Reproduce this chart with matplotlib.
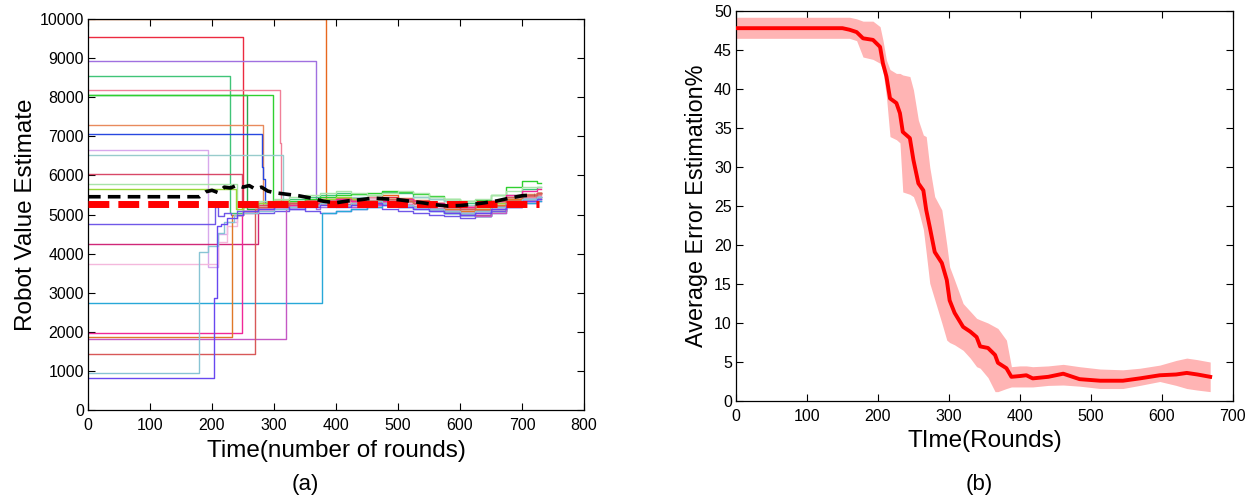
import matplotlib
matplotlib.use('Agg')
import matplotlib.pyplot as plt

# ---------------- data: panel (a) ----------------
BAND_T = [250, 275, 300, 325, 350, 375, 400, 425, 450, 475, 500, 525, 550, 575, 600, 625, 650, 675, 700, 725]
END_T = 730

R01_PRE_T = [0, 384]; R01_PRE_V = [10000, 5380]
R01_BAND = [5420, 5360, 5450, 5500, 5420, 5380, 5300, 5240, 5180, 5120, 5300, 5400, 5520, 5560]
R02_PRE_T = [0]; R02_PRE_V = [9550]
R02_BAND = [5250, 5300, 5350, 5300, 5380, 5400, 5350, 5420, 5380, 5450, 5400, 5350, 5280, 5200, 5150, 5100, 5220, 5380, 5480, 5520]
R03_PRE_T = [0, 368]; R03_PRE_V = [8930, 5150]
R03_BAND = [5200, 5250, 5300, 5280, 5350, 5300, 5260, 5200, 5150, 5100, 5050, 5150, 5300, 5400, 5450]
R04_PRE_T = [0, 229]; R04_PRE_V = [8550, 5050]
R04_BAND = [5200, 5300, 5350, 5400, 5450, 5500, 5550, 5520, 5500, 5580, 5550, 5450, 5400, 5350, 5300, 5250, 5350, 5500, 5650, 5700]
R05_PRE_T = [0, 310, 312]; R05_PRE_V = [8175, 6830, 5300]
R05_BAND = [5300, 5350, 5400, 5380, 5420, 5450, 5400, 5380, 5350, 5300, 5250, 5200, 5150, 5200, 5350, 5450, 5500]
R06_PRE_T = [0, 256]; R06_PRE_V = [8060, 5150]
R06_BAND = [5200, 5250, 5300, 5280, 5320, 5380, 5400, 5350, 5300, 5350, 5250, 5150, 5050, 5000, 4950, 5100, 5300, 5400, 5450]
R07_PRE_T = [0, 299]; R07_PRE_V = [8060, 5250]
R07_BAND = [5300, 5350, 5400, 5450, 5500, 5520, 5550, 5600, 5580, 5520, 5480, 5400, 5350, 5380, 5500, 5700, 5850, 5800]
R08_PRE_T = [0, 282]; R08_PRE_V = [7290, 5250]
R08_BAND = [5350, 5300, 5250, 5300, 5350, 5400, 5380, 5350, 5400, 5350, 5300, 5250, 5200, 5150, 5250, 5400, 5500, 5550]
R09_PRE_T = [0, 280, 283, 286]; R09_PRE_V = [7060, 6220, 5900, 5300]
R09_BAND = [5250, 5200, 5250, 5300, 5280, 5300, 5250, 5300, 5250, 5200, 5150, 5100, 5050, 5100, 5200, 5300, 5400, 5450]
R10_PRE_T = [0, 194, 210, 225, 240]; R10_PRE_V = [6650, 3660, 4500, 4800, 5000]
R10_BAND = [5100, 5200, 5250, 5300, 5350, 5300, 5250, 5300, 5350, 5300, 5250, 5300, 5250, 5200, 5150, 5100, 5200, 5300, 5400, 5450]
R11_PRE_T = [0, 315]; R11_PRE_V = [6520, 5200]
R11_BAND = [5250, 5300, 5350, 5400, 5450, 5400, 5350, 5400, 5450, 5400, 5350, 5250, 5200, 5250, 5400, 5500, 5550]
R12_PRE_T = [0, 249]; R12_PRE_V = [6035, 5150]
R12_BAND = [5200, 5250, 5300, 5250, 5300, 5350, 5300, 5250, 5300, 5350, 5300, 5250, 5200, 5100, 5050, 5000, 5100, 5250, 5350, 5400]
R13_PRE_T = [0, 240]; R13_PRE_V = [5780, 5100]
R13_BAND = [5250, 5350, 5400, 5450, 5500, 5550, 5600, 5550, 5500, 5550, 5600, 5550, 5450, 5400, 5350, 5400, 5500, 5600, 5700, 5700]
R14_PRE_T = [0, 238]; R14_PRE_V = [5650, 5150]
R14_BAND = [5250, 5300, 5350, 5300, 5350, 5400, 5450, 5400, 5350, 5400, 5350, 5300, 5250, 5200, 5150, 5200, 5300, 5400, 5500, 5550]
R15_PRE_T = [0, 205, 210, 220, 230, 240]; R15_PRE_V = [4757, 5200, 4950, 5050, 5000, 5100]
R15_BAND = [5100, 5050, 5100, 5150, 5100, 5050, 5100, 5150, 5200, 5150, 5100, 5050, 5000, 4950, 4900, 4950, 5100, 5200, 5300, 5350]
R16_PRE_T = [0, 274]; R16_PRE_V = [4245, 5150]
R16_BAND = [5200, 5250, 5300, 5350, 5300, 5350, 5400, 5350, 5300, 5250, 5200, 5150, 5200, 5250, 5350, 5450, 5500, 5550]
R17_PRE_T = [0, 210, 225, 240]; R17_PRE_V = [3730, 4300, 4700, 5000]
R17_BAND = [5100, 5150, 5200, 5250, 5300, 5350, 5300, 5350, 5400, 5350, 5300, 5250, 5200, 5150, 5200, 5250, 5350, 5450, 5500, 5550]
R18_PRE_T = [0, 378]; R18_PRE_V = [2735, 5050]
R18_BAND = [5100, 5150, 5200, 5250, 5200, 5150, 5100, 5050, 5000, 4950, 5050, 5200, 5300, 5350]
R19_PRE_T = [0, 248]; R19_PRE_V = [1977, 5000]
R19_BAND = [5050, 5150, 5200, 5250, 5300, 5350, 5400, 5350, 5300, 5350, 5400, 5350, 5300, 5250, 5200, 5250, 5350, 5500, 5600, 5650]
R20_PRE_T = [0, 232]; R20_PRE_V = [1860, 5000]
R20_BAND = [5100, 5200, 5250, 5300, 5350, 5300, 5250, 5300, 5350, 5400, 5350, 5300, 5250, 5150, 5100, 5150, 5250, 5400, 5500, 5550]
R21_PRE_T = [0, 320]; R21_PRE_V = [1825, 5150]
R21_BAND = [5200, 5250, 5300, 5250, 5200, 5250, 5300, 5250, 5200, 5150, 5100, 5000, 4950, 5050, 5200, 5350, 5400]
R22_PRE_T = [0, 269]; R22_PRE_V = [1430, 5150]
R22_BAND = [5200, 5250, 5300, 5350, 5300, 5250, 5300, 5350, 5400, 5350, 5300, 5250, 5200, 5150, 5250, 5350, 5450, 5500, 5550]
R23_PRE_T = [0, 179, 193, 209, 220, 235]; R23_PRE_V = [945, 4050, 4190, 4535, 4800, 5000]
R23_BAND = [5050, 5100, 5150, 5200, 5250, 5300, 5250, 5300, 5350, 5300, 5250, 5200, 5150, 5100, 5050, 5100, 5200, 5300, 5400, 5450]
R24_PRE_T = [0, 203, 208, 215, 225, 240]; R24_PRE_V = [815, 2870, 4700, 4750, 4900, 5000]
R24_BAND = [5100, 5150, 5200, 5150, 5200, 5250, 5200, 5250, 5300, 5250, 5200, 5150, 5100, 5050, 5000, 5050, 5150, 5250, 5350, 5400]

ROBOT_COLORS = ['#e8681e', '#ec2a40', '#a070e0', '#40c478', '#f08098', '#2ca84e',
                '#30d030', '#e88a5c', '#2848e0', '#d8a8ec', '#98cccc', '#d84868',
                '#a8e4a8', '#98d838', '#7058e8', '#d02878', '#f4b8dc', '#28a8d8',
                '#f02898', '#e07828', '#c458c4', '#d85858', '#88c4d4', '#6848f0']

MEAN_T = [0, 180, 190, 200, 210, 220, 230, 240, 250, 260, 270, 280, 290, 300, 320, 340, 360,
          380, 400, 420, 440, 460, 480, 500, 520, 540, 560, 580, 600, 620, 640, 660, 680, 700, 720]
MEAN_V = [5455, 5455, 5580, 5620, 5560, 5700, 5680, 5750, 5700, 5740, 5650, 5700, 5600, 5560,
          5520, 5480, 5420, 5340, 5300, 5350, 5380, 5420, 5400, 5380, 5340, 5300, 5250, 5220,
          5230, 5260, 5300, 5350, 5420, 5480, 5500]
TRUE_T = [0, 728]
TRUE_V = [5280, 5280]

# ---------------- data: panel (b) ----------------
ERR_T = [0, 150, 160, 170, 179, 193, 203, 207, 212, 217, 226, 231, 235, 245, 250, 257, 264, 268,
         273, 280, 290, 297, 301, 308, 320, 330, 339, 344, 355, 365, 369, 381, 388, 400, 409, 418,
         440, 461, 484, 513, 545, 569, 597, 620, 635, 650, 668]
ERR_MEAN = [47.8, 47.8, 47.6, 47.3, 46.5, 46.3, 45.4, 43.3, 41.6, 38.8, 38.2, 36.9, 34.5, 33.7,
            30.9, 27.9, 27.0, 24.5, 22.3, 19.1, 17.7, 15.5, 12.9, 11.3, 9.5, 8.9, 8.2, 7.0, 6.8,
            5.9, 4.9, 4.2, 3.1, 3.2, 3.3, 2.9, 3.1, 3.5, 2.8, 2.6, 2.6, 2.9, 3.3, 3.4, 3.6, 3.4, 3.1]
ERR_UP = [49.2, 49.2, 49.2, 49.0, 48.7, 48.7, 48.0, 46.3, 43.7, 42.5, 42.0, 42.0, 41.8, 41.6,
          39.9, 36.0, 34.1, 33.9, 30.0, 26.2, 24.5, 20.0, 17.2, 15.5, 12.5, 11.5, 10.6, 10.4, 10.0,
          9.5, 9.3, 7.8, 4.4, 4.5, 4.5, 4.4, 4.5, 4.7, 4.4, 4.1, 4.0, 4.2, 4.6, 5.2, 5.5, 5.3, 5.0]
ERR_LO = [46.5, 46.5, 46.5, 46.2, 44.1, 43.8, 43.3, 42.4, 39.0, 33.9, 33.5, 33.1, 26.8, 26.5,
          26.2, 24.5, 22.0, 19.0, 15.1, 13.0, 10.0, 7.8, 7.5, 7.2, 6.5, 5.5, 4.4, 4.2, 3.0, 1.2,
          1.2, 1.6, 1.8, 1.8, 1.8, 1.8, 2.0, 2.05, 1.9, 1.6, 1.6, 2.0, 2.5, 2.0, 1.6, 1.4, 1.2]

XTICKS_A = [0, 100, 200, 300, 400, 500, 600, 700, 800]
YTICKS_A = [0, 1000, 2000, 3000, 4000, 5000, 6000, 7000, 8000, 9000, 10000]
XTICKS_B = [0, 100, 200, 300, 400, 500, 600, 700]
YTICKS_B = [0, 5, 10, 15, 20, 25, 30, 35, 40, 45, 50]

# ---------------- drawing ----------------
plt.rcParams['font.family'] = ['Liberation Sans', 'DejaVu Sans']
TICK_FONT = ['Liberation Sans Narrow', 'Liberation Sans', 'DejaVu Sans']

fig = plt.figure(figsize=(12.48, 5.01), dpi=100)
ax1 = fig.add_axes([0.0705, 0.1816, 0.3974, 0.7804])
ax2 = fig.add_axes([0.5897, 0.1996, 0.3982, 0.7784])

robots = [
    (R01_PRE_T, R01_PRE_V, R01_BAND), (R02_PRE_T, R02_PRE_V, R02_BAND),
    (R03_PRE_T, R03_PRE_V, R03_BAND), (R04_PRE_T, R04_PRE_V, R04_BAND),
    (R05_PRE_T, R05_PRE_V, R05_BAND), (R06_PRE_T, R06_PRE_V, R06_BAND),
    (R07_PRE_T, R07_PRE_V, R07_BAND), (R08_PRE_T, R08_PRE_V, R08_BAND),
    (R09_PRE_T, R09_PRE_V, R09_BAND), (R10_PRE_T, R10_PRE_V, R10_BAND),
    (R11_PRE_T, R11_PRE_V, R11_BAND), (R12_PRE_T, R12_PRE_V, R12_BAND),
    (R13_PRE_T, R13_PRE_V, R13_BAND), (R14_PRE_T, R14_PRE_V, R14_BAND),
    (R15_PRE_T, R15_PRE_V, R15_BAND), (R16_PRE_T, R16_PRE_V, R16_BAND),
    (R17_PRE_T, R17_PRE_V, R17_BAND), (R18_PRE_T, R18_PRE_V, R18_BAND),
    (R19_PRE_T, R19_PRE_V, R19_BAND), (R20_PRE_T, R20_PRE_V, R20_BAND),
    (R21_PRE_T, R21_PRE_V, R21_BAND), (R22_PRE_T, R22_PRE_V, R22_BAND),
    (R23_PRE_T, R23_PRE_V, R23_BAND), (R24_PRE_T, R24_PRE_V, R24_BAND),
]
for (pt, pv, band), col in zip(robots, ROBOT_COLORS):
    t = list(pt) + BAND_T[len(BAND_T) - len(band):] + [END_T]
    v = list(pv) + list(band) + [band[-1]]
    ax1.step(t, v, where='post', color=col, lw=1.0, zorder=2)

ax1.plot(TRUE_T, TRUE_V, color='#ff0000', lw=5, dashes=(3.0, 1.3), zorder=4)
ax1.plot(MEAN_T, MEAN_V, color='black', lw=2.6, dashes=(3.5, 2.0), zorder=5)

ax1.set_xlim(0, 800)
ax1.set_ylim(0, 10000)
ax1.set_xticks(XTICKS_A)
ax1.set_yticks(YTICKS_A)
ax1.set_xlabel('Time(number of rounds)', fontsize=17.5, labelpad=5)
ax1.set_ylabel('Robot Value Estimate', fontsize=17.5, labelpad=2)

ax2.fill_between(ERR_T, ERR_LO, ERR_UP, color='#ffb4b4', lw=0, zorder=2)
ax2.plot(ERR_T, ERR_MEAN, color='#ff0000', lw=2.8, zorder=3)
ax2.set_xlim(0, 700)
ax2.set_ylim(0, 50)
ax2.set_xticks(XTICKS_B)
ax2.set_yticks(YTICKS_B)
ax2.set_xlabel('TIme(Rounds)', fontsize=17.5, labelpad=4)
ax2.set_ylabel('Average Error Estimation%', fontsize=16.8, labelpad=4)

for ax in (ax1, ax2):
    ax.tick_params(direction='in', top=True, right=True, length=5, width=0.8,
                   labelsize=11.5, pad=3)
    ax.tick_params(axis='x', pad=6)
    for lab in ax.get_xticklabels() + ax.get_yticklabels():
        lab.set_family(TICK_FONT)
    for sp in ax.spines.values():
        sp.set_linewidth(0.9)

fig.text(0.2444, 0.032, '(a)', ha='center', va='center', fontsize=16)
fig.text(0.785, 0.032, '(b)', ha='center', va='center', fontsize=16)

fig.savefig('out.png', dpi=100)
